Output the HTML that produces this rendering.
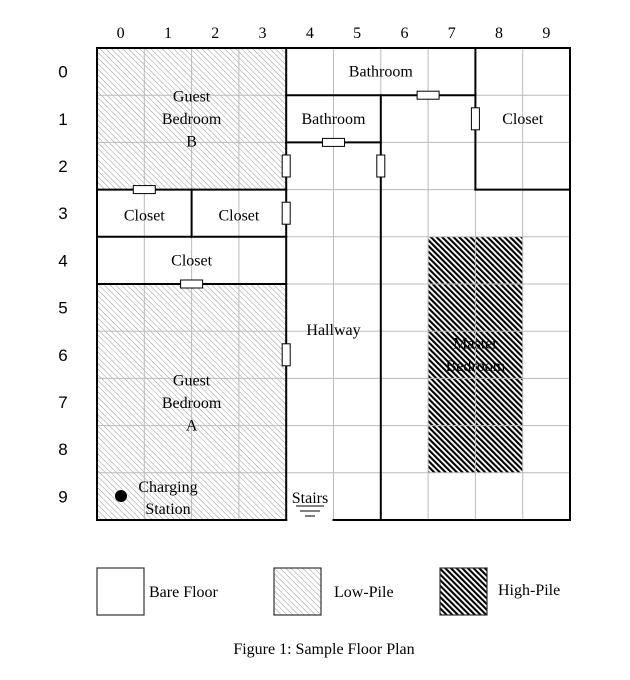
<!DOCTYPE html>
<html><head><meta charset="utf-8"><style>
body{margin:0;background:#fff;width:630px;height:680px;overflow:hidden}
svg{display:block}
.serif{font-family:"Liberation Serif","DejaVu Serif",serif}
</style></head><body>
<svg id="plan" width="630" height="680" xmlns="http://www.w3.org/2000/svg">
<defs>
<pattern id="low" patternUnits="userSpaceOnUse" width="4" height="4" patternTransform="rotate(-45)">
<rect width="4" height="4" fill="#fff"/><line x1="0" y1="0" x2="0" y2="4" stroke="#999" stroke-width="1"/></pattern>
<pattern id="high" patternUnits="userSpaceOnUse" width="4" height="4" patternTransform="rotate(-45)">
<rect width="4" height="4" fill="#fff"/><line x1="1" y1="0" x2="1" y2="4" stroke="#000" stroke-width="2.2"/></pattern>
</defs>
<g id="areas"></g><g id="grid"></g><g id="walls"></g><g id="doors"></g><g id="labels"></g>
</svg>
<script>
const colLabels=["0","1","2","3","4","5","6","7","8","9"];
const rowLabels=["0","1","2","3","4","5","6","7","8","9"];
// floor areas [x0,y0,x1,y1,type] in grid units
const areas=[[0,0,4,3,"low"],[0,5,4,10,"low"],[7,4,9,9,"high"]];
// walls [x0,y0,x1,y1]
const walls=[[0,0,10,0],[0,0,0,10],[10,0,10,10],[0,10,4,10],[5,10,10,10],[4,0,4,10],
[0,3,4,3],[2,3,2,4],[0,4,4,4],[0,5,4,5],[4,1,8,1],[8,0,8,3],[8,3,10,3],[4,2,6,2],[6,1,6,10]];
// doors [x,y,orientation]
const doors=[[7,1,"h"],[5,2,"h"],[1,3,"h"],[2,5,"h"],[4,2.5,"v"],[4,3.5,"v"],[4,6.5,"v"],[6,2.5,"v"],[8,1.5,"v"]];
// room labels [x,y,text lines]
const rooms=[[2,1.5,["Guest","Bedroom","B"],"guest-bedroom-b"],[6,0.5,["Bathroom"],"bathroom-upper"],[5,1.5,["Bathroom"],"bathroom-lower"],
[9,1.5,["Closet"],"closet-right"],[1,3.55,["Closet"],"closet-left"],[3,3.55,["Closet"],"closet-middle"],[2,4.5,["Closet"],"closet-wide"],
[5,5.97,["Hallway"],"hallway"],[8,6.5,["Master","Bedroom"],"master-bedroom"],[2,7.52,["Guest","Bedroom","A"],"guest-bedroom-a"]];
const X0=97,Y0=48,CW=47.3,CH=47.2;
const sx=v=>X0+v*CW, sy=v=>Y0+v*CH;
const NS="http://www.w3.org/2000/svg";
function mk(tag,at,parent){const e=document.createElementNS(NS,tag);for(const k in at)e.setAttribute(k,at[k]);parent.appendChild(e);return e;}
const gA=document.getElementById('areas'),gG=document.getElementById('grid'),gW=document.getElementById('walls'),gD=document.getElementById('doors'),gL=document.getElementById('labels');
areas.forEach((a,i)=>{const r=mk('rect',{x:sx(a[0]),y:sy(a[1]),width:sx(a[2])-sx(a[0]),height:sy(a[3])-sy(a[1]),fill:'url(#'+a[4]+')'},gA);

});
for(let i=1;i<10;i++){
const l1=mk('line',{x1:sx(i),y1:sy(0),x2:sx(i),y2:sy(10),stroke:'#bbb','stroke-width':1},gG);


const l2=mk('line',{x1:sx(0),y1:sy(i),x2:sx(10),y2:sy(i),stroke:'#bbb','stroke-width':1},gG);

}
walls.forEach(w=>{const l=mk('line',{x1:sx(w[0]),y1:sy(w[1]),x2:sx(w[2]),y2:sy(w[3]),stroke:'#000','stroke-width':2,'stroke-linecap':'square'},gW);

});
doors.forEach(d=>{const w=d[2]=='h'?22:8,h=d[2]=='h'?8:22;
const r=mk('rect',{x:sx(d[0])-w/2,y:sy(d[1])-h/2,width:w,height:h,fill:'#fff',stroke:'#000','stroke-width':1},gD);

});
colLabels.forEach((t,i)=>{const e=mk('text',{x:sx(i+0.5),y:38,'text-anchor':'middle','font-size':16,class:'serif'},gL);e.textContent=t;

});
rowLabels.forEach((t,i)=>{const e=mk('text',{x:63,y:sy(i+0.5)+6,'text-anchor':'middle','font-size':17,'font-family':'Liberation Sans, sans-serif'},gL);e.textContent=t;

});
rooms.forEach(r=>{const n=r[2].length;const e=mk('text',{x:sx(r[0]),'text-anchor':'middle','font-size':16,class:'serif'},gL);


r[2].forEach((s,k)=>{const t=mk('tspan',{x:sx(r[0]),y:sy(r[1])+5+(k-(n-1)/2)*22.5},e);t.textContent=s;});});
// charging station & stairs
const cs=mk('circle',{cx:121,cy:496,r:6,fill:'#000'},gL);


const ct=mk('text',{'font-size':16,class:'serif','text-anchor':'middle'},gL);


[["Charging",168,492],["Station",168,514]].forEach(a=>{const t=mk('tspan',{x:a[1],y:a[2]},ct);t.textContent=a[0];});
const st=mk('text',{x:310,y:503,'font-size':16,class:'serif','text-anchor':'middle'},gL);st.textContent='Stairs';


[[28,506],[20,511],[10,516]].forEach(s=>{const l=mk('line',{x1:310-s[0]/2,y1:s[1],x2:310+s[0]/2,y2:s[1],stroke:'#000','stroke-width':1},gL);

});
// legend
[["Bare Floor","#fff",97,149,597],["Low-Pile","url(#low)",274,334,597],["High-Pile","url(#high)",440,498,595]].forEach(l=>{
const r=mk('rect',{x:l[2],y:568,width:47,height:47,fill:l[1],stroke:'#333','stroke-width':1.2},gL);


const t=mk('text',{x:l[3],y:l[4],'font-size':16,class:'serif'},gL);t.textContent=l[0];

});
const cap=mk('text',{x:324,y:654,'font-size':16,class:'serif','text-anchor':'middle'},gL);cap.textContent='Figure 1: Sample Floor Plan';


</script>
</body></html>
